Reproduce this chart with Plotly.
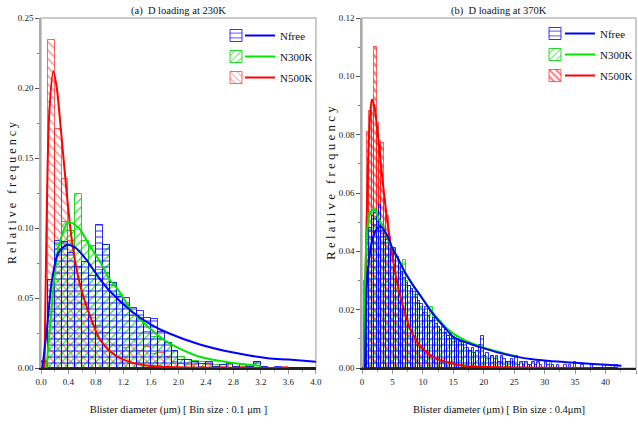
import plotly.graph_objects as go

# ---------------- data: (a) 230K, bin 0.1 um ----------------
BIN_A = 0.1
nfree_a = [0.004, 0.063, 0.091, 0.090, 0.082, 0.072, 0.076, 0.066, 0.102, 0.088,
           0.061, 0.051, 0.050, 0.043, 0.041, 0.036, 0.035, 0.026, 0.018, 0.012,
           0.006, 0.006, 0.004, 0.003, 0.004, 0.001, 0.002, 0.003, 0.001, 0.002,
           0.001, 0.004, 0.001, 0.000, 0.001, 0.000, 0.000, 0.000, 0.000, 0.000]
n300_a = [0.000, 0.040, 0.088, 0.104, 0.098, 0.124, 0.091, 0.087, 0.070, 0.088,
          0.061, 0.052, 0.045, 0.037, 0.036, 0.026, 0.022, 0.021, 0.018, 0.012,
          0.008, 0.006, 0.005, 0.004, 0.003, 0.002, 0.002, 0.003, 0.001, 0.002,
          0.001, 0.004, 0.000, 0.000, 0.000, 0.000, 0.000, 0.000, 0.000, 0.000]
n500_a = [0.005, 0.234, 0.171, 0.135, 0.091, 0.063, 0.045, 0.036, 0.030, 0.025,
          0.020, 0.016, 0.014, 0.020, 0.012, 0.015, 0.010, 0.011, 0.008, 0.004,
          0.003, 0.002, 0.002, 0.001, 0.002, 0.001, 0.001, 0.002, 0.001, 0.001,
          0.001, 0.000, 0.001, 0.000, 0.000, 0.001, 0.000, 0.000, 0.000, 0.000]

fit_nfree_a_x = [0.02, 0.08, 0.16, 0.25, 0.38, 0.50, 0.65, 0.85, 1.00, 1.33, 1.60, 1.85, 2.30, 2.80, 3.30, 3.60, 4.00]
fit_nfree_a_y = [0.000, 0.025, 0.063, 0.082, 0.088, 0.086, 0.078, 0.064, 0.055, 0.040, 0.031, 0.025, 0.017, 0.011, 0.007, 0.006, 0.0045]
fit_n300_a_x = [0.08, 0.15, 0.25, 0.40, 0.55, 0.70, 0.87, 1.00, 1.12, 1.33, 1.50, 1.82, 2.31, 2.79, 3.20]
fit_n300_a_y = [0.000, 0.040, 0.085, 0.104, 0.100, 0.088, 0.075, 0.063, 0.056, 0.040, 0.032, 0.019, 0.008, 0.0036, 0.0015]
fit_n500_a_x = [0.05, 0.08, 0.12, 0.18, 0.23, 0.29, 0.38, 0.45, 0.55, 0.63, 0.70, 0.85, 1.00, 1.20, 1.50, 2.00, 2.50, 3.00, 3.60]
fit_n500_a_y = [0.000, 0.100, 0.182, 0.212, 0.200, 0.170, 0.122, 0.091, 0.063, 0.049, 0.039, 0.021, 0.012, 0.006, 0.002, 0.0005, 0.0002, 0.0001, 0.0]

# ---------------- data: (b) 370K, bin 0.4 um ----------------
BIN_B = 0.4
nfree_b = [0.000, 0.012, 0.044, 0.048, 0.052, 0.053, 0.050, 0.056, 0.047, 0.046,
           0.044, 0.043, 0.041, 0.041, 0.038, 0.036, 0.033, 0.031, 0.029, 0.028,
           0.027, 0.026, 0.025, 0.023, 0.022, 0.019, 0.021, 0.018, 0.016, 0.017,
           0.015, 0.014, 0.013, 0.014, 0.012, 0.011, 0.012, 0.010, 0.009, 0.010,
           0.009, 0.008, 0.009, 0.007, 0.006, 0.007, 0.005, 0.006, 0.008, 0.011,
           0.004, 0.005, 0.003, 0.004, 0.003, 0.004, 0.002, 0.004, 0.003, 0.002,
           0.002, 0.003, 0.002, 0.004, 0.001, 0.002, 0.001, 0.002, 0.001, 0.001,
           0.002, 0.001, 0.002, 0.001, 0.000, 0.002, 0.001, 0.000, 0.001, 0.000,
           0.001, 0.000, 0.000, 0.001, 0.000, 0.001, 0.000, 0.002, 0.000, 0.000,
           0.001, 0.000, 0.000, 0.000, 0.001, 0.000, 0.000, 0.000, 0.000, 0.001,
           0.000, 0.000, 0.000, 0.000, 0.001]
n300_b = [0.000, 0.016, 0.046, 0.053, 0.055, 0.054, 0.050, 0.048, 0.045, 0.044,
          0.043, 0.040, 0.039, 0.037, 0.035, 0.034, 0.032, 0.037, 0.030, 0.028,
          0.027, 0.025, 0.024, 0.022, 0.021, 0.020, 0.019, 0.018, 0.021, 0.017,
          0.016, 0.014, 0.013, 0.012, 0.012, 0.011, 0.010, 0.009, 0.011, 0.008,
          0.009, 0.010, 0.007, 0.006, 0.006, 0.005, 0.005, 0.004, 0.005, 0.007,
          0.004, 0.003, 0.003, 0.004, 0.002, 0.003, 0.002, 0.002, 0.001, 0.002,
          0.001, 0.002, 0.001, 0.001, 0.000, 0.000, 0.002, 0.000, 0.001, 0.000,
          0.000, 0.001, 0.000, 0.000, 0.000, 0.000, 0.000, 0.002]
n500_b = [0.000, 0.030, 0.081, 0.088, 0.092, 0.110, 0.084, 0.078, 0.077, 0.058,
          0.052, 0.045, 0.040, 0.034, 0.030, 0.026, 0.022, 0.019, 0.017, 0.014,
          0.013, 0.011, 0.010, 0.008, 0.007, 0.006, 0.006, 0.005, 0.004, 0.004,
          0.003, 0.003, 0.002, 0.003, 0.002, 0.002, 0.001, 0.002, 0.001, 0.001,
          0.001, 0.001, 0.000, 0.001, 0.000, 0.001, 0.000, 0.000, 0.001, 0.000,
          0.001, 0.000, 0.000, 0.000, 0.001]

fit_nfree_b_x = [0.5, 0.8, 1.2, 1.6, 2.2, 3.0, 4.0, 5.0, 5.8, 7.0, 8.5, 9.7, 11.5, 13.5, 15.1, 17.5, 19.8, 22.5, 25.3, 28.0, 30.8, 33.5, 36.2, 39.5, 42.6]
fit_nfree_b_y = [0.000, 0.029, 0.038, 0.043, 0.047, 0.0486, 0.046, 0.041, 0.038, 0.033, 0.028, 0.0245, 0.019, 0.014, 0.0105, 0.0085, 0.0069, 0.0052, 0.0039, 0.0030, 0.0024, 0.0020, 0.0016, 0.0012, 0.0008]
fit_n300_b_x = [0.3, 0.8, 1.3, 2.0, 2.6, 3.5, 4.5, 5.8, 7.0, 8.5, 10.0, 12.0, 14.0, 16.0, 18.0, 20.0, 22.5, 25.3]
fit_n300_b_y = [0.000, 0.046, 0.053, 0.0545, 0.052, 0.048, 0.043, 0.038, 0.033, 0.028, 0.0235, 0.018, 0.0135, 0.0105, 0.0085, 0.0070, 0.0055, 0.0040]
fit_n500_b_x = [0.3, 0.7, 1.15, 1.6, 2.0, 2.5, 3.0, 3.5, 4.0, 4.8, 5.8, 6.9, 8.0, 9.5, 12.0, 14.6, 16.0, 20.0, 25.0, 30.0, 37.7]
fit_n500_b_y = [0.000, 0.045, 0.079, 0.092, 0.090, 0.082, 0.072, 0.062, 0.053, 0.041, 0.029, 0.020, 0.013, 0.0078, 0.0034, 0.0017, 0.0009, 0.0004, 0.0002, 0.0001, 0.0]

series_names = ["Nfree", "N300K", "N500K"]
ticks_a_y = [0, 0.05, 0.10, 0.15, 0.20, 0.25]
ticks_b_y = [0, 0.02, 0.04, 0.06, 0.08, 0.10, 0.12]
ticks_a_x = [0.0, 0.4, 0.8, 1.2, 1.6, 2.0, 2.4, 2.8, 3.2, 3.6, 4.0]
ticks_b_x = [0, 5, 10, 15, 20, 25, 30, 35, 40, 45]

# ---------------- styling ----------------
FONT = "Liberation Serif, Times New Roman, serif"
line_col = {"Nfree": "#0000ff", "N300K": "#00e600", "N500K": "#ff0000"}
hatch_col = {"Nfree": "rgba(20,20,255,0.75)", "N300K": "rgba(0,220,0,0.85)", "N500K": "rgba(255,40,40,0.6)"}
edge_col = {"Nfree": "rgba(0,0,255,0.8)", "N300K": "rgba(0,210,0,0.85)", "N500K": "rgba(255,0,0,0.6)"}
hatch_shape = {"Nfree": "-", "N300K": "/", "N500K": "\\"}
rank = {"Nfree": 1, "N300K": 2, "N500K": 3}

fig = go.Figure()

def add_panel(xa, ya, binw, bars, fits, leg_box, leg_line, red_solidity):
    # draw order: N500K, N300K, Nfree (blue on top)
    for name in ["N500K", "N300K", "Nfree"]:
        vals = bars[name]
        centers = [binw * (i + 0.5) for i in range(len(vals))]
        sol = red_solidity if name == "N500K" else 0.2
        fig.add_trace(go.Bar(
            x=centers, y=vals, width=binw, name=" ", xaxis=xa, yaxis=ya,
            legend=leg_box, legendrank=rank[name], legendgroup=leg_box + name,
            marker=dict(color=hatch_col[name],
                        line=dict(color=edge_col[name], width=1),
                        pattern=dict(shape=hatch_shape[name], size=6, solidity=sol,
                                     fillmode="replace")),
        ))
    for name in ["N500K", "N300K", "Nfree"]:
        fx, fy = fits[name]
        fig.add_trace(go.Scatter(
            x=fx, y=fy, mode="lines", name=name, xaxis=xa, yaxis=ya,
            legend=leg_line, legendrank=rank[name], legendgroup=leg_line + name,
            line=dict(color=line_col[name], width=2, shape="spline", smoothing=0.8),
        ))

add_panel("x", "y", BIN_A,
          {"Nfree": nfree_a, "N300K": n300_a, "N500K": n500_a},
          {"Nfree": (fit_nfree_a_x, fit_nfree_a_y), "N300K": (fit_n300_a_x, fit_n300_a_y),
           "N500K": (fit_n500_a_x, fit_n500_a_y)},
          "legend", "legend2", 0.2)
add_panel("x2", "y2", BIN_B,
          {"Nfree": nfree_b, "N300K": n300_b, "N500K": n500_b},
          {"Nfree": (fit_nfree_b_x, fit_nfree_b_y), "N300K": (fit_n300_b_x, fit_n300_b_y),
           "N500K": (fit_n500_b_x, fit_n500_b_y)},
          "legend3", "legend4", 0.45)

tickfont = dict(family=FONT, size=9, color="#222")
titlefont = dict(family=FONT, size=10.5, color="#111")

def xaxis(domain, rng, tv, tt, title, anchor, mdt):
    return dict(domain=domain, range=rng, tickvals=tv, ticktext=tt, anchor=anchor,
                showline=True, linecolor="#222", linewidth=2, ticks="outside",
                ticklen=4, tickcolor="#999", tickfont=tickfont, showgrid=False,
                zeroline=False, automargin=False,
                minor=dict(ticks="outside", ticklen=2, tickcolor="#aaa", dtick=mdt, tick0=0),
                title=dict(text=title, font=titlefont, standoff=20))

def yaxis(rng, tv, tt, dt, anchor):
    return dict(domain=[0, 1], range=rng, tickvals=tv, ticktext=tt, anchor=anchor,
                showline=True, linecolor="#aaa", linewidth=1.5, ticks="outside",
                ticklen=4, tickcolor="#555", tickfont=tickfont, showgrid=False,
                zeroline=False, automargin=False,
                minor=dict(ticks="outside", ticklen=2, tickcolor="#777", dtick=dt, tick0=0))

leg_common = dict(bgcolor="rgba(0,0,0,0)", font=dict(family=FONT, size=11, color="#111"),
                  xanchor="left", yanchor="top", tracegroupgap=2, itemwidth=30,
                  traceorder="grouped")

def px_x(p):   # paper x from pixel (plot area 41..636)
    return (p - 41) / 595.0

def px_y(p):   # paper y from pixel (plot area 18..368)
    return (368 - p) / 350.0

fig.update_layout(
    width=638, height=430,
    margin=dict(l=41, r=2, t=18, b=62, autoexpand=False),
    paper_bgcolor="white", plot_bgcolor="white",
    barmode="overlay", bargap=0,
    font=dict(family=FONT),
    xaxis=xaxis([0, 0.462], [0, 4.0], ticks_a_x, ["%.1f" % v for v in ticks_a_x],
                "Blister diameter (μm) [ Bin size : 0.1 μm ]", "y", 0.2),
    yaxis=yaxis([0, 0.25], ticks_a_y, ["%.2f" % v for v in ticks_a_y], 0.025, "x"),
    xaxis2=xaxis([0.5395, 1.0], [0, 45], ticks_b_x, [str(v) for v in ticks_b_x],
                 "Blister diameter (μm) [ Bin size : 0.4μm]", "y2", 2.5),
    yaxis2=yaxis([0, 0.12], ticks_b_y, ["%.2f" % v for v in ticks_b_y], 0.01, "x2"),
    legend=dict(x=px_x(216), y=px_y(21), **leg_common),
    legend2=dict(x=px_x(240), y=px_y(21), **leg_common),
    legend3=dict(x=px_x(535), y=px_y(19), **leg_common),
    legend4=dict(x=px_x(560), y=px_y(19), **leg_common),
    showlegend=True,
)

# gray frame (top/right) around each panel
for xr, yr in [("x domain", "y domain"), ("x2 domain", "y2 domain")]:
    fig.add_shape(type="rect", xref=xr, yref=yr, x0=0, x1=1, y0=0, y1=1,
                  line=dict(color="#bbb", width=1.5), layer="below")

ttl_font = dict(family=FONT, size=10.5, color="#111")
fig.add_annotation(text="(a)  D loading at 230K", x=0.5, xref="x domain", y=1.0, yref="y domain",
                   yanchor="bottom", showarrow=False, font=ttl_font, yshift=-1)
fig.add_annotation(text="(b)  D loading at 370K", x=0.5, xref="x2 domain", y=1.0, yref="y2 domain",
                   yanchor="bottom", showarrow=False, font=ttl_font, yshift=-1)

ylab = "R e l a t i v e   f r e q u e n c y"
fig.add_annotation(text=ylab, textangle=-90, x=px_x(12), xref="paper", y=px_y(193), yref="paper",
                   xanchor="center", yanchor="middle", showarrow=False,
                   font=dict(family=FONT, size=12, color="#111"))
fig.add_annotation(text=ylab, textangle=-90, x=px_x(330), xref="paper", y=px_y(183), yref="paper",
                   xanchor="center", yanchor="middle", showarrow=False,
                   font=dict(family=FONT, size=13, color="#111"))

fig.write_html("out.html")
